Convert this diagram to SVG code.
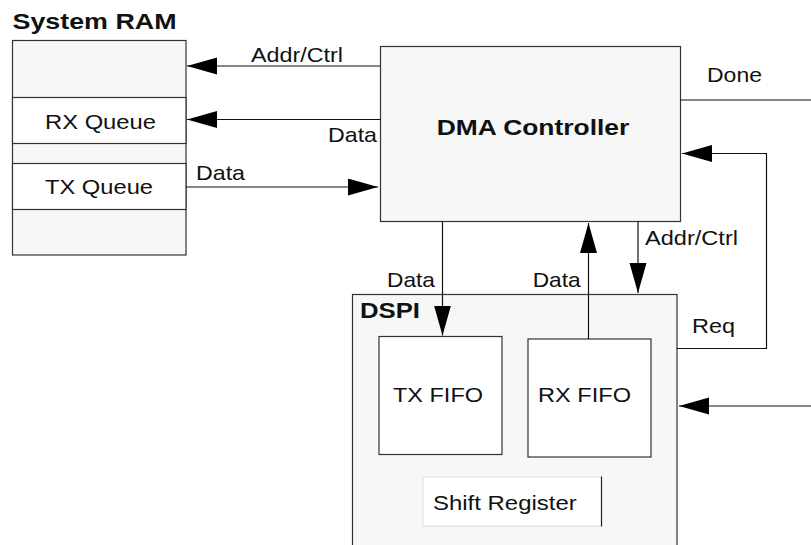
<svg xmlns="http://www.w3.org/2000/svg" width="811" height="545" viewBox="0 0 811 545">
<style>
.box{fill:#f7f7f7;stroke:#333;stroke-width:1.2}
.wbox{fill:#fff;stroke:#333;stroke-width:1.2}
.ln{fill:none;stroke:#111;stroke-width:1.2}
.t{font-family:"Liberation Sans",Arial,sans-serif;font-size:21px;fill:#111}
.b{font-family:"Liberation Sans",Arial,sans-serif;font-size:22.5px;font-weight:bold;fill:#111}
</style>
<defs>
<marker id="ah" markerUnits="userSpaceOnUse" markerWidth="30" markerHeight="18" refX="30" refY="8.5" orient="auto">
<path d="M0,0 L30,8.5 L0,17 Z" fill="#000"/>
</marker>
</defs>
<rect width="811" height="545" fill="#fff"/>
<g id="ram">
<text class="b" x="12.5" y="29" textLength="164" lengthAdjust="spacingAndGlyphs">System RAM</text>
<rect class="box" x="12.5" y="40.5" width="173.5" height="214.5"/>
<rect class="wbox" x="12.5" y="97.5" width="173.5" height="46"/>
<rect class="wbox" x="12.5" y="163.5" width="173.5" height="46"/>
<text class="t" x="45" y="129" textLength="111" lengthAdjust="spacingAndGlyphs">RX Queue</text>
<text class="t" x="45" y="194.3" textLength="108" lengthAdjust="spacingAndGlyphs">TX Queue</text>
</g>
<g id="dma">
<rect class="box" x="380.5" y="46.5" width="300" height="175"/>
<text class="b" x="436.7" y="134.5" textLength="192.6" lengthAdjust="spacingAndGlyphs">DMA Controller</text>
</g>
<g id="dspi">
<rect class="box" x="352.5" y="294.5" width="324.5" height="270"/>
<text class="b" x="360" y="318.3" textLength="60" lengthAdjust="spacingAndGlyphs">DSPI</text>
<g id="txfifo">
<rect class="wbox" x="379" y="336.5" width="123" height="118"/>
<text class="t" x="393" y="402" textLength="90" lengthAdjust="spacingAndGlyphs">TX FIFO</text>
</g>
<g id="rxfifo">
<rect class="wbox" x="528" y="339" width="123" height="118"/>
<text class="t" x="538" y="402" textLength="93" lengthAdjust="spacingAndGlyphs">RX FIFO</text>
</g>
<g id="shift">
<rect x="423" y="477" width="178.5" height="49" fill="#fff" stroke="#ddd" stroke-width="1"/>
<line x1="601.5" y1="476.5" x2="601.5" y2="526.5" stroke="#222" stroke-width="1.2"/>
<text class="t" x="433" y="510" textLength="143.7" lengthAdjust="spacingAndGlyphs">Shift Register</text>
</g>
</g>
<g id="connectors">
<line class="ln" x1="380" y1="66" x2="187" y2="66" marker-end="url(#ah)"/>
<text class="t" x="251" y="62" textLength="92" lengthAdjust="spacingAndGlyphs">Addr/Ctrl</text>
<line class="ln" x1="380" y1="119.5" x2="187" y2="119.5" marker-end="url(#ah)"/>
<text class="t" x="328" y="142" textLength="49" lengthAdjust="spacingAndGlyphs">Data</text>
<line class="ln" x1="186" y1="187" x2="378" y2="187" marker-end="url(#ah)"/>
<text class="t" x="196" y="180" textLength="49" lengthAdjust="spacingAndGlyphs">Data</text>
<line class="ln" x1="680" y1="100" x2="811" y2="100"/>
<text class="t" x="707" y="82" textLength="55" lengthAdjust="spacingAndGlyphs">Done</text>
<polyline class="ln" points="677,348.5 766.5,348.5 766.5,153.5 682,153.5" marker-end="url(#ah)"/>
<text class="t" x="692" y="333" textLength="43" lengthAdjust="spacingAndGlyphs">Req</text>
<line class="ln" x1="811" y1="406" x2="679" y2="406" marker-end="url(#ah)"/>
<line class="ln" x1="442.5" y1="221" x2="442.5" y2="335.5" marker-end="url(#ah)"/>
<text class="t" x="387" y="287" textLength="48" lengthAdjust="spacingAndGlyphs">Data</text>
<line class="ln" x1="588.5" y1="339" x2="588.5" y2="223" marker-end="url(#ah)"/>
<text class="t" x="532.7" y="287" textLength="48" lengthAdjust="spacingAndGlyphs">Data</text>
<line class="ln" x1="638" y1="221" x2="638" y2="293" marker-end="url(#ah)"/>
<text class="t" x="645" y="245" textLength="93" lengthAdjust="spacingAndGlyphs">Addr/Ctrl</text>
</g>
</svg>
